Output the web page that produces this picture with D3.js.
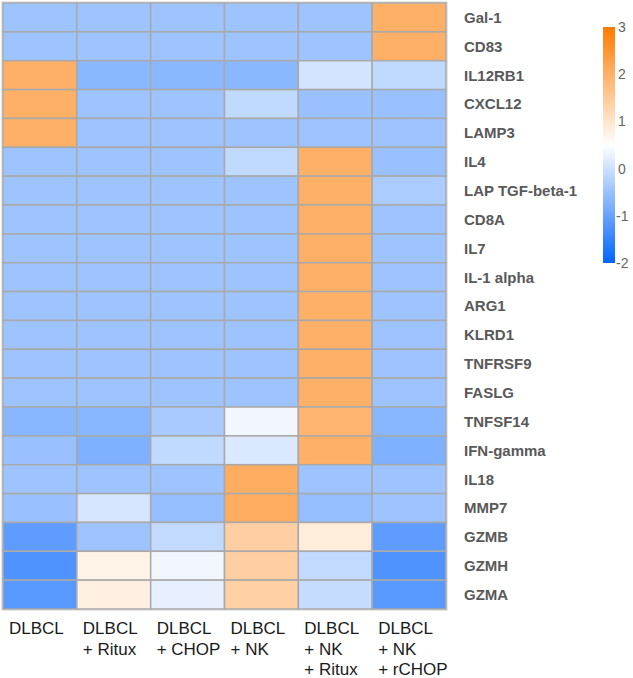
<!DOCTYPE html>
<html><head><meta charset="utf-8">
<script src="https://cdn.jsdelivr.net/npm/d3@7"></script>
<style>html,body{margin:0;padding:0;background:#fff;}</style>
</head><body>
<svg id="chart" width="633" height="678"></svg>
<script>
const genes = ["Gal-1","CD83","IL12RB1","CXCL12","LAMP3","IL4","LAP TGF-beta-1","CD8A","IL7","IL-1 alpha","ARG1","KLRD1","TNFRSF9","FASLG","TNFSF14","IFN-gamma","IL18","MMP7","GZMB","GZMH","GZMA"];
const conditions = [["DLBCL"],["DLBCL","+ Ritux"],["DLBCL","+ CHOP"],["DLBCL","+ NK"],["DLBCL","+ NK","+ Ritux"],["DLBCL","+ NK","+ rCHOP"]];
// values per condition column, in gene order
const colDLBCL        = [-0.45,-0.45, 2.0, 2.0, 2.0,-0.45,-0.45,-0.45,-0.45,-0.45,-0.45,-0.45,-0.45,-0.45,-0.67,-0.5,-0.45,-0.5,-1.08,-1.24,-1.15];
const colRitux        = [-0.45,-0.45,-0.65,-0.45,-0.45,-0.45,-0.45,-0.45,-0.45,-0.45,-0.45,-0.45,-0.45,-0.45,-0.67,-0.76,-0.45, 0.1,-0.45, 0.73, 0.78];
const colCHOP         = [-0.45,-0.45,-0.65,-0.45,-0.45,-0.45,-0.45,-0.45,-0.45,-0.45,-0.45,-0.45,-0.45,-0.45,-0.35,-0.12,-0.45,-0.55,-0.1, 0.37, 0.25];
const colNK           = [-0.45,-0.45,-0.65,-0.12,-0.45,-0.12,-0.45,-0.45,-0.45,-0.45,-0.45,-0.45,-0.45,-0.45, 0.37, 0.14, 2.05, 2.05, 1.4, 1.4, 1.38];
const colNKRitux      = [-0.45,-0.45, 0.06,-0.5,-0.45, 2.0, 2.0, 2.0, 2.0, 2.0, 2.0, 2.0, 2.0, 2.0, 1.9, 2.0,-0.45,-0.55, 0.85,-0.1,-0.07];
const colNKrCHOP      = [ 2.0, 2.0,-0.12,-0.5,-0.45,-0.5,-0.32,-0.45,-0.45,-0.45,-0.45,-0.45,-0.45,-0.45,-0.67,-0.76,-0.45,-0.45,-1.08,-1.24,-1.15];
const columns = [colDLBCL,colRitux,colCHOP,colNK,colNKRitux,colNKrCHOP];
const legendTicks = [3,2,1,0,-1,-2];

const svg = d3.select("#chart");
const gridL = 3, gridR = 446, gridT = 3, gridB = 609;
const x = d3.scaleBand().domain(d3.range(conditions.length)).range([gridL, gridR]);
const y = d3.scaleBand().domain(genes).range([gridT, gridB]);
const color = d3.scaleLinear().domain([-2,0.5,3]).range(["#0064ff","#ffffff","#ff7b00"]).clamp(true);

const cells = [];
columns.forEach((col,ci)=>col.forEach((v,gi)=>cells.push({ci, g:genes[gi], v})));

svg.append("rect").attr("x",gridL-1).attr("y",gridT-1).attr("width",gridR-gridL+2).attr("height",gridB-gridT+2)
  .attr("fill","none").attr("stroke","#d0d0d0").attr("stroke-width",1);

svg.append("g").selectAll("rect").data(cells).join("rect")
  .attr("x",d=>x(d.ci)).attr("y",d=>y(d.g))
  .attr("width",x.bandwidth()).attr("height",y.bandwidth())
  .attr("fill",d=>color(d.v))
  .attr("stroke","#a9a9a9").attr("stroke-width",1.5);

// row labels
svg.append("g").selectAll("text").data(genes).join("text")
  .attr("x",464).attr("y",d=>y(d)+y.bandwidth()/2)
  .attr("dy","0.36em")
  .attr("font-family","Liberation Sans, Arial, sans-serif")
  .attr("font-size",15).attr("font-weight","bold").attr("fill","#595959")
  .text(d=>d);

// column labels
const cl = svg.append("g").selectAll("text").data(conditions).join("text")
  .attr("font-family","Liberation Sans, Arial, sans-serif")
  .attr("font-size",17).attr("fill","#1a1a1a");
cl.each(function(lines,i){
  d3.select(this).selectAll("tspan").data(lines).join("tspan")
    .attr("x",x(i)+6).attr("y",(d,j)=>634+j*20.5).text(d=>d);
});

// legend
const ly = d3.scaleLinear().domain([-2,3]).range([263,27]);
const defs = svg.append("defs");
const grad = defs.append("linearGradient").attr("id","lg").attr("x1",0).attr("y1",1).attr("x2",0).attr("y2",0);
d3.range(-2,3.01,0.25).forEach(v=>{
  grad.append("stop").attr("offset",((v+2)/5*100)+"%").attr("stop-color",color(v));
});
svg.append("rect").attr("x",603).attr("y",ly(3)).attr("width",12).attr("height",ly(-2)-ly(3)).attr("fill","url(#lg)");
svg.append("g").selectAll("text").data(legendTicks).join("text")
  .attr("x",d=>d<0?616:618).attr("y",d=>ly(d)).attr("dy","0.36em")
  .attr("font-family","Liberation Sans, Arial, sans-serif")
  .attr("font-size",14).attr("fill","#666")
  .text(d=>d);
</script>
</body></html>
